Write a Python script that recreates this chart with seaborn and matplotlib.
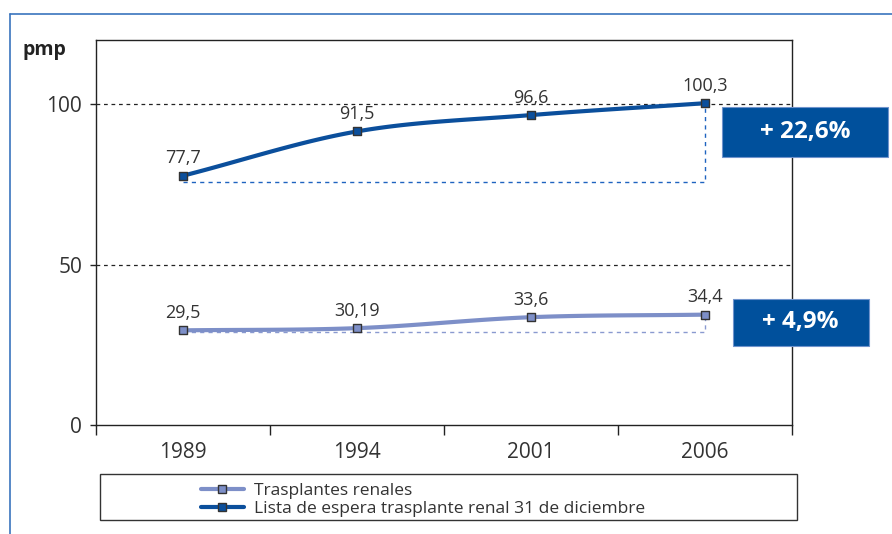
import numpy as np
import pandas as pd
import matplotlib
import seaborn as sns

matplotlib.use("Agg")
import matplotlib.pyplot as plt
from matplotlib.lines import Line2D
from matplotlib.patches import Rectangle

# datos (pmp)
years = ["1989", "1994", "2001", "2006"]
trasplantes = [29.5, 30.19, 33.6, 34.4]
lista_espera = [77.7, 91.5, 96.6, 100.3]
trasplantes_labels = ["29,5", "30,19", "33,6", "34,4"]
lista_labels = ["77,7", "91,5", "96,6", "100,3"]
incrementos = ["+ 22,6%", "+ 4,9%"]
series_names = ["Trasplantes renales",
                "Lista de espera trasplante renal 31 de diciembre"]

DARK = "#0b4f9c"
LIGHT = "#7d8fc8"
BOX = "#00509c"

sns.set_theme(style="white")
plt.rcParams["font.family"] = ["Open Sans", "DejaVu Sans"]


def smooth(vals, n=40):
    # catmull-rom through the points, only for drawing the curve
    p = np.asarray(vals, dtype=float)
    p = np.concatenate([[2 * p[0] - p[1]], p, [2 * p[-1] - p[-2]]])
    xs, ys = [], []
    for i in range(1, len(p) - 2):
        t = np.linspace(0, 1, n)
        p0, p1, p2, p3 = p[i - 1], p[i], p[i + 1], p[i + 2]
        y = 0.5 * (2 * p1 + (-p0 + p2) * t + (2 * p0 - 5 * p1 + 4 * p2 - p3) * t ** 2
                   + (-p0 + 3 * p1 - 3 * p2 + p3) * t ** 3)
        xs.append(i - 1 + t)
        ys.append(y)
    return np.concatenate(xs), np.concatenate(ys)


fig = plt.figure(figsize=(8.92, 5.34), dpi=100)
ax = fig.add_axes([96 / 892, 109 / 534, 696 / 892, 385 / 534])

pos = np.arange(len(years))

# guide lines
for v in (50, 100):
    ax.axhline(v, color="#222222", lw=0.9, ls=(0, (3, 3)), zorder=1)

ax.plot([0, 3, 3], [lista_espera[0] - 2, lista_espera[0] - 2, lista_espera[-1]],
        color="#1f64c0", lw=1.0, ls=(0, (3, 3)), zorder=1)
ax.plot([0, 3, 3], [trasplantes[0] - 0.4, trasplantes[0] - 0.4, trasplantes[-1]],
        color="#8a9ad0", lw=1.0, ls=(0, (3, 3)), zorder=1)

for vals, col in ((lista_espera, DARK), (trasplantes, LIGHT)):
    sx, sy = smooth(vals)
    sns.lineplot(x=sx, y=sy, color=col, lw=3, ax=ax, zorder=2, sort=False)
    sns.scatterplot(x=pos, y=vals, color=col, marker="s", s=40,
                    edgecolor="#333333", linewidth=1.0, ax=ax, zorder=3)

for vals, labs in ((lista_espera, lista_labels), (trasplantes, trasplantes_labels)):
    for x, v, t in zip(pos, vals, labs):
        ax.annotate(t, (x, v), xytext=(0, 6), textcoords="offset points",
                    ha="center", va="bottom", fontsize=13, color="#333333")

# percentage boxes
for (x0, x1, y0, y1), txt in zip([(3.10, 4.05, 83.4, 99.1), (3.16, 3.94, 24.7, 39.4)],
                                 incrementos):
    ax.add_patch(Rectangle((x0, y0), x1 - x0, y1 - y0, facecolor=BOX,
                           edgecolor="#6f93cc", lw=0.8, clip_on=False, zorder=4))
    ax.text((x0 + x1) / 2, (y0 + y1) / 2, txt, color="white", fontsize=17.5,
            fontweight="bold", ha="center", va="center", zorder=5)

ax.set_xlim(-0.5, 3.5)
ax.set_ylim(0, 120)
ax.set_xticks(np.arange(-0.5, 4.0, 1.0))
ax.set_xticklabels([])
ax.set_xticks(pos, minor=True)
ax.set_xticklabels(years, minor=True, fontsize=15, color="#333333")
ax.tick_params(axis="x", which="major", direction="out", length=7, width=1,
               color="#222222", bottom=True)
ax.tick_params(axis="x", which="minor", length=0, pad=12)
ax.set_yticks([0, 50, 100])
ax.set_yticklabels(["0", "50", "100"], fontsize=15, color="#333333")
ax.tick_params(axis="y", direction="out", length=4, width=1, color="#222222",
               left=True, pad=6)
ax.set_xlabel("")
ax.set_ylabel("")
for s in ax.spines.values():
    s.set_color("#222222")
    s.set_linewidth(1.0)

fig.text(23 / 892, 1 - 50 / 534, "pmp", fontsize=14, fontweight="bold",
         color="#222222", va="center", ha="left")

# outer frame (left and top only visible)
fig.add_artist(Line2D([10 / 892, 10 / 892], [0, 1 - 14 / 534], color="#3a74bd", lw=1.2))
fig.add_artist(Line2D([10 / 892, 1], [1 - 14 / 534, 1 - 14 / 534], color="#3a74bd", lw=1.2))

# legend box
fig.add_artist(Rectangle((100 / 892, 14 / 534), 697 / 892, 46 / 534, transform=fig.transFigure,
                         facecolor="none", edgecolor="#333333", lw=1.0))
handles = [
    Line2D([], [], color=LIGHT, lw=3, marker="s", markersize=5.5,
           markerfacecolor=LIGHT, markeredgecolor="#333333"),
    Line2D([], [], color=DARK, lw=3, marker="s", markersize=5.5,
           markerfacecolor=DARK, markeredgecolor="#333333"),
]
fig.legend(handles, series_names, loc="center left",
           bbox_to_anchor=(192 / 892, 34 / 534), frameon=False, fontsize=12.5,
           handlelength=2.5, handletextpad=0.6, labelspacing=0.12,
           borderpad=0, labelcolor="#333333")

plt.savefig("out.png", dpi=100)
